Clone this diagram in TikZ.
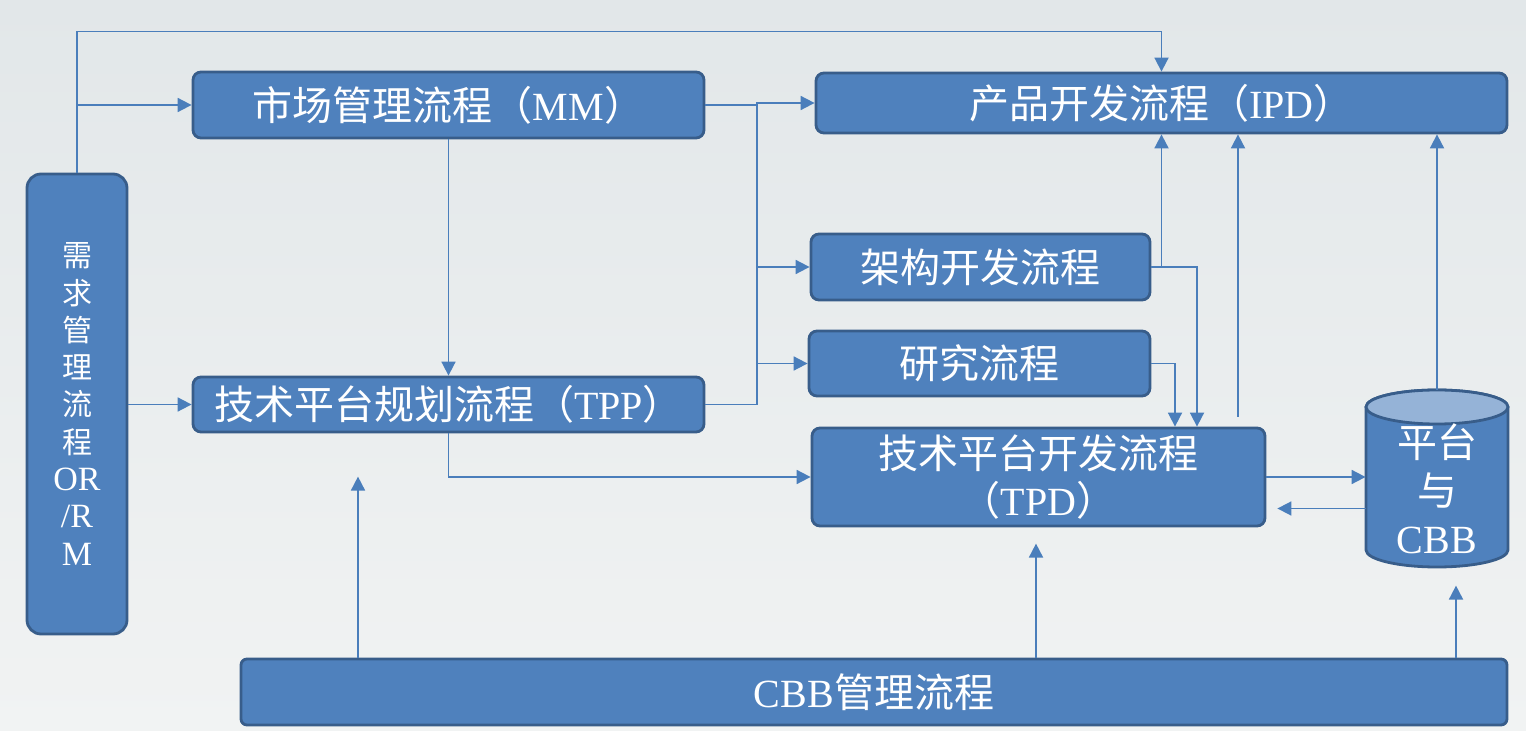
\documentclass[tikz,border=0pt]{standalone}
\usepackage{fontspec}
\setmainfont{Liberation Serif}
\newfontfamily\cjkf{Noto Sans CJK SC}
\usetikzlibrary{arrows.meta}
\definecolor{boxfill}{RGB}{79,129,189}
\definecolor{boxline}{RGB}{56,93,138}
\definecolor{linec}{RGB}{74,126,187}
\definecolor{bgtop}{RGB}{226,231,233}
\definecolor{bgbot}{RGB}{241,243,243}
\definecolor{cyltop}{RGB}{149,179,215}
\tikzset{
  box/.style={draw=boxline, fill=boxfill, line width=1.4pt, rounded corners=4pt,
    text=white, font=\fontsize{20pt}{24pt}\selectfont, inner sep=0pt, align=center},
  conn/.style={draw=linec, line width=0.9pt},
  arr/.style={conn, -{Triangle[length=7pt,width=7pt]}}
}
\begin{document}
\begin{tikzpicture}[x=0.5pt,y=-0.5pt]
\useasboundingbox (0,0) rectangle (1526,731);
\shade[top color=bgtop, bottom color=bgbot] (0,0) rectangle (1526,731);

% nodes
\node[box, rounded corners=7pt, minimum width=50pt, minimum height=230pt,
  font=\fontsize{15pt}{18.65pt}\selectfont] (orm) at (77,404)
  {{\cjkf 需}\\{\cjkf 求}\\{\cjkf 管}\\{\cjkf 理}\\{\cjkf 流}\\{\cjkf 程}\\{\fontsize{17pt}{18.65pt}\selectfont OR}\\{\fontsize{17pt}{18.65pt}\selectfont /R}\\{\fontsize{17pt}{18.65pt}\selectfont M}};
\node[box, minimum width=255.5pt, minimum height=33pt] (mm) at (448.5,105)
  {{\cjkf 市场管理流程（}MM{\cjkf ）}};
\node[box, minimum width=345.5pt, minimum height=30pt] (ipd) at (1161.5,103)
  {{\cjkf 产品开发流程（}IPD{\cjkf ）}};
\node[box, minimum width=169.5pt, minimum height=33pt] (jg) at (980.5,267)
  {\cjkf 架构开发流程};
\node[box, minimum width=170.5pt, minimum height=32.5pt] (yj) at (979.5,363.5)
  {\cjkf 研究流程};
\node[box, minimum width=255.5pt, minimum height=27.5pt] (tpp) at (448.5,404.5)
  {{\cjkf 技术平台规划流程（}TPP{\cjkf ）}};
\node[box, minimum width=226.5pt, minimum height=49pt,
  font=\fontsize{20pt}{23.5pt}\selectfont] (tpd) at (1038.5,477)
  {{\cjkf 技术平台开发流程}\\{\cjkf （}TPD{\cjkf ）}};
\node[box, rounded corners=3pt, minimum width=633pt, minimum height=33pt] (cbb) at (874,692)
  {CBB{\cjkf 管理流程}};

% cylinder
\draw[draw=boxline, fill=boxfill, line width=1.4pt]
  (1366,407) -- (1366,550) arc[start angle=180, end angle=360, x radius=35.5pt, y radius=8.5pt]
  -- (1508,407) arc[start angle=0, end angle=180, x radius=35.5pt, y radius=8.5pt] -- cycle;
\draw[draw=boxline, fill=cyltop, line width=1.4pt] (1437,407) ellipse[x radius=35.5pt, y radius=8.5pt];
\node[minimum width=71pt, minimum height=88.5pt, inner sep=0pt] (cyl) at (1437,478.5) {};
\node[text=white, align=center, font=\fontsize{20pt}{24pt}\selectfont, inner sep=0pt] (cyltext) at (1437,489)
  {{\cjkf 平台}\\{\cjkf 与}\\CBB};

% connectors
\draw[arr] (orm.north) -- ++(0,-141) -| (ipd.north);
\coordinate (j1) at (77,105);
\draw[arr] (j1) -- (mm.west);
\draw[arr] (orm.east |- tpp.west) -- (tpp.west);
\draw[arr] (mm.south) -- (tpp.north);

\coordinate (t1) at (757,105);
\draw[conn] (mm.east) -- (t1);
\draw[arr] (t1) |- (ipd.west);
\draw[conn] (t1) -- (t1 |- yj.west);
\draw[arr] (t1 |- jg.west) -- (jg.west);
\draw[arr] (tpp.east) -| (t1 |- yj.west) -- (yj.west);

\draw[arr] (jg.east) -| ([xshift=79.25pt]tpd.north);
\draw[arr] (ipd.south |- jg.east) -- (ipd.south);
\draw[arr] (yj.east) -| ([xshift=68.25pt]tpd.north);
\draw[arr] ([xshift=99.75pt,yshift=5pt]tpd.north) -- ([xshift=99.75pt]tpd.north |- ipd.south);

\draw[arr] (tpd.east) -- (tpd.east -| cyl.west);
\coordinate (c2) at ([yshift=-15pt]cyl.west);
\draw[arr] (c2) -- ([xshift=5.5pt]tpd.east |- c2);
\draw[arr] (cyl.north) -- (cyl.north |- ipd.south);

\draw[arr] (tpp.south) |- (tpd.west);

\draw[arr] ([xshift=-258pt]cbb.north) -- ++(0,-181);
\draw[arr] ([xshift=81pt]cbb.north) -- ++(0,-114);
\draw[arr] ([xshift=291pt]cbb.north) -- ++(0,-72);
\end{tikzpicture}
\end{document}
